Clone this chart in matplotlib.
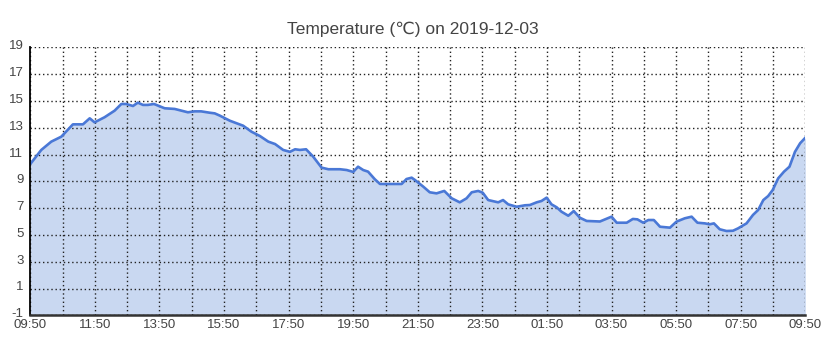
import matplotlib
matplotlib.use("Agg")
import matplotlib.pyplot as plt
import matplotlib.transforms as mtransforms

plt.rcParams['font.family'] = ['Liberation Sans', 'DejaVu Sans']

title = "Temperature (\u2103) on 2019-12-03"

# hours since 09:50 on 2019-12-03
hours = [0.0, 0.34, 0.65, 0.96, 1.32, 1.63, 1.84, 1.99, 2.30, 2.61, 2.82, 2.97,
         3.18, 3.33, 3.49, 3.64, 3.83, 4.16, 4.47, 4.88, 5.09, 5.29, 5.55, 5.71,
         5.87, 6.18, 6.39, 6.59, 6.85, 7.11, 7.37, 7.58, 7.83, 8.04, 8.20, 8.35,
         8.54, 8.76, 9.02, 9.23, 9.59, 9.80, 10.0, 10.15, 10.31, 10.46, 10.67,
         10.83, 11.5, 11.65, 11.81, 11.91, 12.17, 12.37, 12.58, 12.82, 13.05,
         13.30, 13.51, 13.67, 13.87, 14.01, 14.18, 14.49, 14.64, 14.80, 15.06,
         15.32, 15.47, 15.68, 15.83, 15.99, 16.14, 16.30, 16.45, 16.66, 16.83,
         17.02, 17.23, 17.64, 18.0, 18.16, 18.47, 18.66, 18.80, 18.98, 19.14,
         19.31, 19.50, 19.81, 20.01, 20.27, 20.48, 20.66, 20.89, 21.04, 21.17,
         21.35, 21.56, 21.76, 21.92, 22.18, 22.38, 22.54, 22.70, 22.85, 22.99,
         23.16, 23.34, 23.51, 23.68, 23.84, 24.0]
temps = [10.29, 11.34, 11.96, 12.33, 13.25, 13.25, 13.7, 13.4, 13.78, 14.27, 14.77, 14.77,
         14.62, 14.87, 14.7, 14.7, 14.77, 14.45, 14.4, 14.15, 14.22, 14.22, 14.12, 14.07,
         13.9, 13.52, 13.33, 13.15, 12.7, 12.38, 11.96, 11.78, 11.34, 11.2, 11.39, 11.34,
         11.39, 10.84, 10.02, 9.9, 9.9, 9.84, 9.7, 10.09, 9.84, 9.72, 9.15,
         8.8, 8.8, 9.17, 9.27, 9.1, 8.6, 8.18, 8.1, 8.28, 7.73,
         7.43, 7.73, 8.18, 8.28, 8.15, 7.6, 7.43, 7.6, 7.28, 7.1,
         7.21, 7.23, 7.43, 7.53, 7.78, 7.28, 7.06, 6.73, 6.43, 6.78,
         6.28, 6.04, 6.0, 6.36, 5.91, 5.91, 6.19, 6.16, 5.91, 6.11,
         6.11, 5.61, 5.54, 5.99, 6.24, 6.36, 5.91, 5.86, 5.79, 5.86,
         5.42, 5.29, 5.31, 5.49, 5.86, 6.49, 6.86, 7.6, 7.9, 8.35,
         9.22, 9.72, 10.09, 11.2, 11.84, 12.25]

x_tick_labels = ["09:50", "11:50", "13:50", "15:50", "17:50", "19:50", "21:50",
                 "23:50", "01:50", "03:50", "05:50", "07:50", "09:50"]
y_ticks = list(range(-1, 20, 2))

fig = plt.figure(figsize=(8.38, 3.57), dpi=100)
ax = fig.add_axes([30.3 / 838, 1 - 315.3 / 357, 775 / 838, 268 / 357])

line_color = "#4a78d6"
fill_color = "#c9d8f1"
ax.fill_between(hours, temps, -1, color=fill_color, linewidth=0, zorder=1)
ax.plot(hours, temps, color=line_color, linewidth=1.9, zorder=3, solid_joinstyle='round')

ax.set_xlim(0, 24)
ax.set_ylim(-1, 19)
ax.set_xticks(range(0, 25))
ax.set_xticklabels(["" if h % 2 else x_tick_labels[h // 2] for h in range(0, 25)])
ax.set_yticks(y_ticks)
ax.set_yticklabels([str(v) for v in y_ticks])

ax.grid(True, which='major', color='#222222', linestyle=(0, (1, 2)), linewidth=1.0, zorder=2)
ax.tick_params(axis='both', length=0, labelsize=9.5, colors='#444444')
ax.tick_params(axis='y', pad=5)
ax.tick_params(axis='x', pad=2.5)
up = mtransforms.ScaledTranslation(0, 2.5 / 100, fig.dpi_scale_trans)
for lab in ax.get_yticklabels():
    lab.set_transform(lab.get_transform() + up)
for s in ['top', 'right']:
    ax.spines[s].set_visible(False)
ax.spines['left'].set_color('black')
ax.spines['left'].set_linewidth(1.3)
ax.spines['bottom'].set_color('#333333')
ax.spines['bottom'].set_linewidth(1.8)
for s in ['left', 'bottom']:
    ax.spines[s].set_zorder(4)

fig.text(412.8 / 838, 1 - 29 / 357, title, ha='center', va='center', fontsize=12.5, color='#444444')

fig.savefig("out.png", dpi=100)
